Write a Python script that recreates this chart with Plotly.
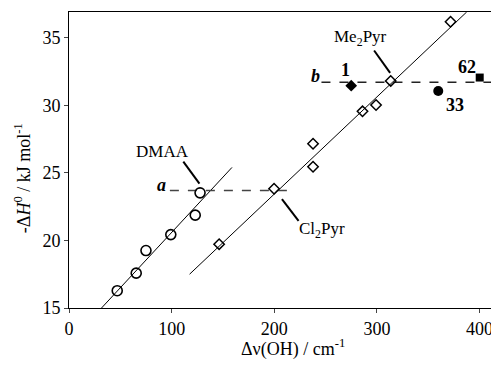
import plotly.graph_objects as go

# ---- data ----
dmaa_x = [47, 65.5, 75, 99.2, 123, 127.7]
dmaa_y = [16.28, 17.58, 19.25, 20.43, 21.87, 23.52]

pyr_x = [146.3, 199.8, 237.8, 237.8, 286, 299.2, 313.5, 371.8]
pyr_y = [19.72, 23.82, 25.45, 27.15, 29.55, 30.02, 31.8, 36.18]

c1_x, c1_y = [275], [31.45]
c33_x, c33_y = [359.8], [31.05]
c62_x, c62_y = [400.2], [32.05]

dmaa_fit_x = [31.7, 158.8]
dmaa_fit_y = [15.0, 25.4]
pyr_fit_x = [117.5, 387.5]
pyr_fit_y = [17.5, 36.9]

line_a_x = [98.3, 218]
line_a_y = [23.7, 23.7]
line_b_x = [246, 430]
line_b_y = [31.7, 31.7]

lead_dmaa_x = [111.4, 127.1]
lead_dmaa_y = [25.83, 24.2]
lead_me_x = [297.3, 312.9]
lead_me_y = [34.05, 32.4]
lead_cl_x = [207.5, 223.7]
lead_cl_y = [23.05, 21.44]

x_ticks = [0, 100, 200, 300, 400]
y_ticks = [15, 20, 25, 30, 35]

FONT = "Liberation Serif, Times New Roman, DejaVu Serif, serif"

fig = go.Figure()

def line(x, y, width=1, dash="solid", color="black"):
    fig.add_trace(go.Scatter(x=x, y=y, mode="lines",
                             line=dict(color=color, width=width, dash=dash),
                             showlegend=False, hoverinfo="skip"))

line(dmaa_fit_x, dmaa_fit_y, 1)
line(pyr_fit_x, pyr_fit_y, 1)
line(line_a_x, line_a_y, 1.5, "dash", "#444")
line(line_b_x, line_b_y, 1.5, "dash", "#222")
line(lead_dmaa_x, lead_dmaa_y, 2)
line(lead_me_x, lead_me_y, 2)
line(lead_cl_x, lead_cl_y, 2)

fig.add_trace(go.Scatter(x=dmaa_x, y=dmaa_y, mode="markers",
                         marker=dict(symbol="circle-open", size=10, color="black",
                                     line=dict(width=1.6, color="black")),
                         showlegend=False))
fig.add_trace(go.Scatter(x=pyr_x, y=pyr_y, mode="markers",
                         marker=dict(symbol="diamond-open", size=8, color="black",
                                     line=dict(width=1.5, color="black")),
                         showlegend=False))
fig.add_trace(go.Scatter(x=c1_x, y=c1_y, mode="markers",
                         marker=dict(symbol="diamond", size=9, color="black"),
                         showlegend=False))
fig.add_trace(go.Scatter(x=c33_x, y=c33_y, mode="markers",
                         marker=dict(symbol="circle", size=10, color="black"),
                         showlegend=False))
fig.add_trace(go.Scatter(x=c62_x, y=c62_y, mode="markers",
                         marker=dict(symbol="square", size=8, color="black"),
                         showlegend=False))

def label(x, y, text, size=17):
    fig.add_annotation(x=x, y=y, text=text, showarrow=False,
                       font=dict(family=FONT, size=size, color="black"),
                       xanchor="center", yanchor="middle")

label(90.9, 26.6, "DMAA")
label(283.7, 34.95, "Me<sub>2</sub>Pyr")
label(246.7, 20.8, "Cl<sub>2</sub>Pyr")
label(89.7, 24.1, "<b><i>a</i></b>", 18)
label(240, 32.15, "<b><i>b</i></b>", 18)
label(269, 32.6, "<b>1</b>", 18)
label(387.6, 32.8, "<b>62</b>", 18)
label(376.2, 30.0, "<b>33</b>", 18)

# axis titles (paper coordinates)
fig.add_annotation(x=0.521, y=-0.135, xref="paper", yref="paper",
                   text="Δν(OH) / cm<sup>-1</sup>", showarrow=False,
                   font=dict(family=FONT, size=18, color="black"),
                   xanchor="center", yanchor="middle")
fig.add_annotation(x=-0.109, y=0.439, xref="paper", yref="paper",
                   text="-Δ<i>H</i><sup>0</sup> / kJ mol<sup>-1</sup>",
                   showarrow=False, textangle=-90,
                   font=dict(family=FONT, size=18, color="black"),
                   xanchor="center", yanchor="middle")

# the page body adds an 8px offset; the figure is sized to fill the rest
fig.update_layout(
    width=491, height=362,
    margin=dict(l=61, r=0, t=4, b=62, autoexpand=False),
    paper_bgcolor="white", plot_bgcolor="white",
    font=dict(family=FONT, size=18, color="black"),
    xaxis=dict(range=[0, 419], tickvals=x_ticks, ticks="outside", ticklen=4,
               showline=True, linecolor="black", linewidth=1, mirror=True,
               showgrid=False, zeroline=False, automargin=False,
               tickfont=dict(family=FONT, size=18)),
    yaxis=dict(range=[15, 36.9], tickvals=y_ticks, ticks="outside", ticklen=4,
               showline=True, linecolor="black", linewidth=1,
               showgrid=False, zeroline=False, automargin=False,
               tickfont=dict(family=FONT, size=18)),
)

fig.write_html("out.html")
